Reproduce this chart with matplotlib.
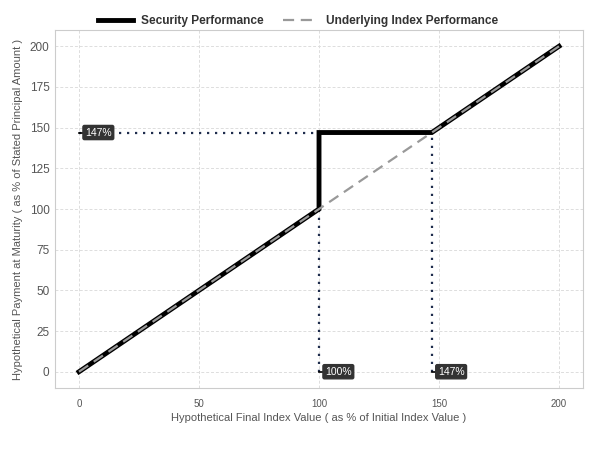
import matplotlib
matplotlib.use("Agg")
import matplotlib.pyplot as plt
from matplotlib.lines import Line2D

plt.rcParams['font.family'] = ['Liberation Sans', 'DejaVu Sans']

# Data
security_x = [0, 100, 100, 147, 200]
security_y = [0, 100, 147, 147, 200]
index_x = [0, 200]
index_y = [0, 200]
cap_level = 147
threshold = 100
x_ticks = [0, 50, 100, 150, 200]
y_ticks = [0, 25, 50, 75, 100, 125, 150, 175, 200]
labels = [(0, 147, "147%"), (100, 0, "100%"), (147, 0, "147%")]

fig = plt.figure(figsize=(6, 4.5), dpi=100)
ax = fig.add_axes([0.0917, 0.1378, 0.88, 0.7955])

ax.set_xlim(-10, 210)
ax.set_ylim(-10, 210)
ax.set_xticks(x_ticks)
ax.set_yticks(y_ticks)
ax.grid(True, color='#dddddd', linestyle=(0, (3, 2)), linewidth=0.7)
ax.set_axisbelow(True)
for s in ax.spines.values():
    s.set_color('#cccccc')
    s.set_linewidth(0.8)
ax.tick_params(axis='x', labelsize=7, colors='#555555', length=0, pad=8)
ax.tick_params(axis='y', labelsize=8.5, colors='#555555', length=0, pad=4)
for t in ax.get_xticklabels() + ax.get_yticklabels():
    t.set_color('#555555')

# dotted guide lines
dcol = '#1f2d4d'
dot = (0, (1, 2.6))
ax.plot([0, cap_level], [cap_level, cap_level], color=dcol, linestyle=dot, linewidth=1.6, zorder=2)
ax.plot([threshold, threshold], [0, cap_level], color=dcol, linestyle=dot, linewidth=1.6, zorder=2)
ax.plot([cap_level, cap_level], [0, cap_level], color=dcol, linestyle=dot, linewidth=1.6, zorder=2)

ax.plot(security_x, security_y, color='black', linewidth=3.5, solid_joinstyle='miter', zorder=3)
ax.plot(index_x, index_y, color='#999999', linewidth=1.6, linestyle=(0, (5, 3)), zorder=4)

for x, y, txt in labels:
    ax.plot([x, x + 1.8], [y, y], color='black', linewidth=1.2, zorder=5)
    ax.text(x + 2.5, y, txt, fontsize=7.5, color='white', va='center', ha='left', zorder=6,
            bbox=dict(boxstyle='round,pad=0.2,rounding_size=0.15', fc='#333333', ec='#333333'))

ax.set_xlabel("Hypothetical Final Index Value ( as % of Initial Index Value )", fontsize=8, color='#555555', labelpad=3)
ax.set_ylabel("Hypothetical Payment at Maturity ( as % of Stated Principal Amount )", fontsize=8, color='#555555', labelpad=5)

handles = [Line2D([0], [0], color='black', linewidth=3.5),
           Line2D([0], [0], color='#999999', linewidth=1.6, linestyle=(0, (5, 3)))]
leg = fig.legend(handles, ["Security Performance", "Underlying Index Performance"], loc='center',
                 bbox_to_anchor=(0.497, 0.953), ncol=2, frameon=False, prop={'weight': 'bold', 'size': 8.6},
                 handlelength=2.9, handletextpad=0.7, columnspacing=1.6)
for t in leg.get_texts():
    t.set_color('#333333')

fig.savefig("out.png", dpi=100)
